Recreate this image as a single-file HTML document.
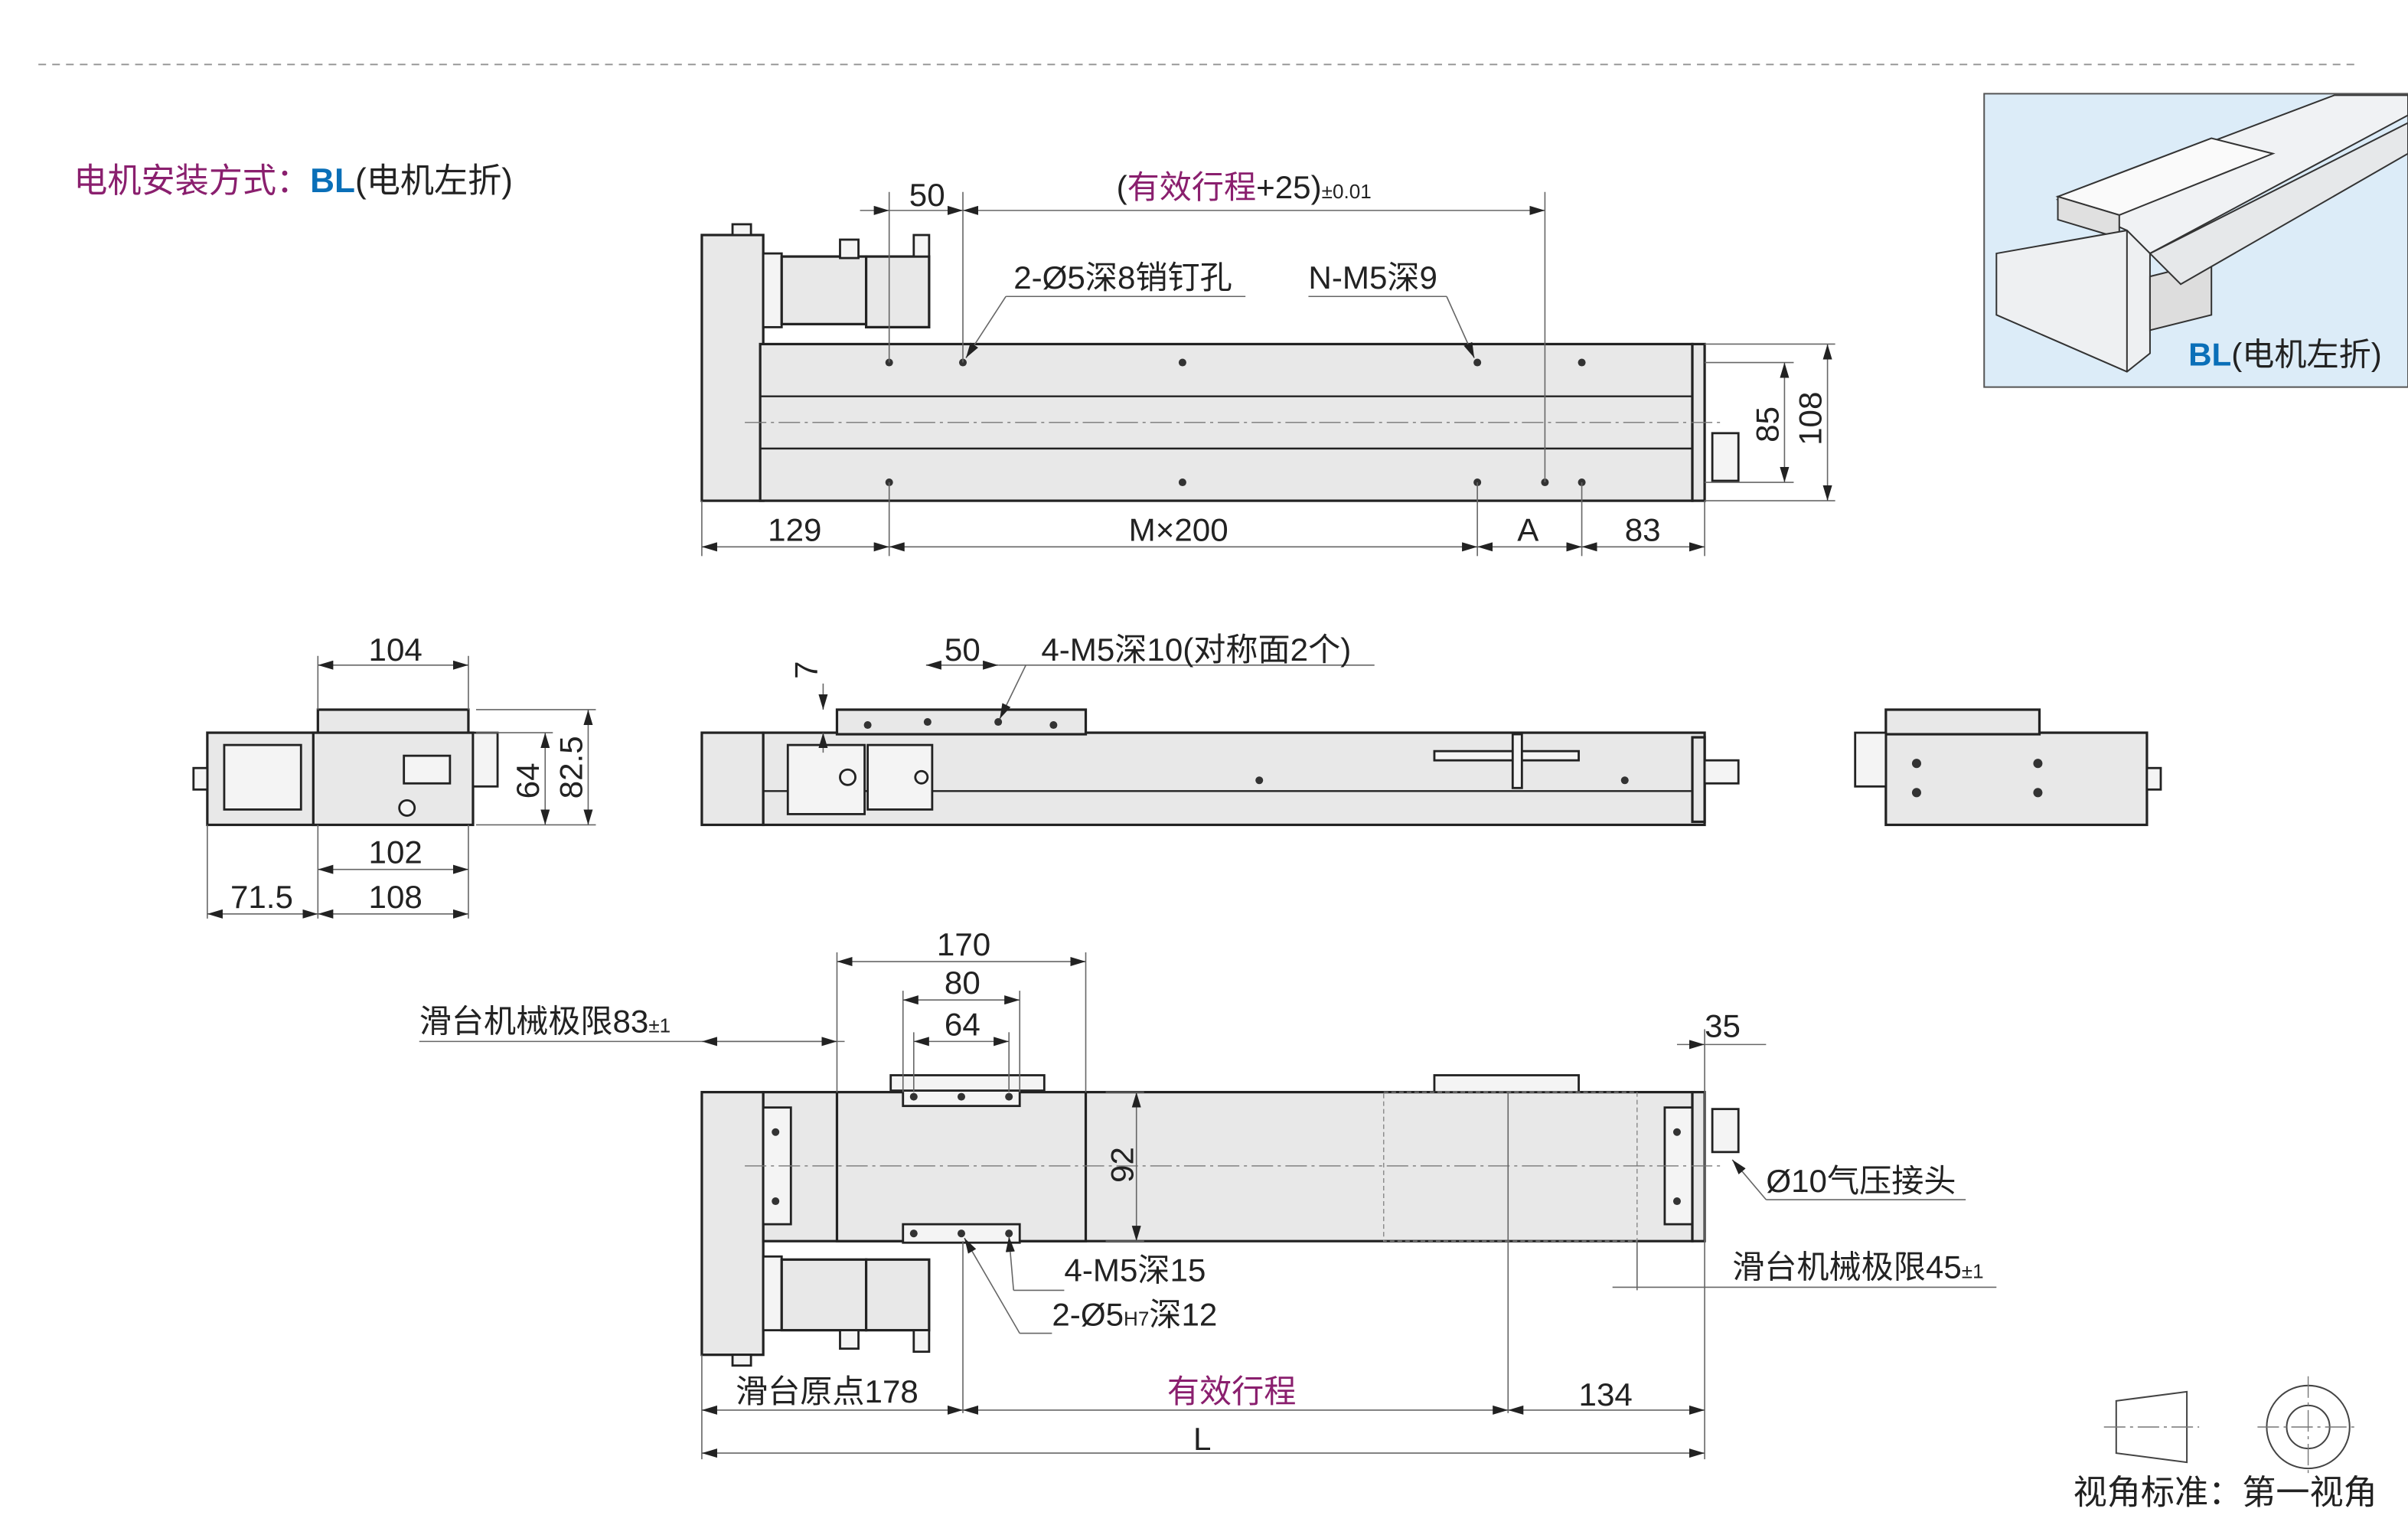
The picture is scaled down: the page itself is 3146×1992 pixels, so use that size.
<!DOCTYPE html>
<html><head><meta charset="utf-8"><style>
html,body{margin:0;padding:0;background:#fff;}
svg{display:block;}
text{font-family:"Liberation Sans","Noto Sans CJK SC",sans-serif;fill:#222;}
.b{fill:#e8e8e8;stroke:#222;stroke-width:1.6;}
.w{fill:#f4f4f4;stroke:#222;stroke-width:1.4;}
.l{stroke:#222;stroke-width:1.2;fill:none;}
.d{stroke:#666;stroke-width:0.8;fill:none;}
.c{stroke:#777;stroke-width:0.7;stroke-dasharray:14 3 2 3;fill:none;}
.h{stroke:#888;stroke-width:0.7;stroke-dasharray:3 2;fill:none;}
.t{font-size:21px;}
.p{fill:#8a1f6e;}
.bl{fill:#0a6fb8;font-weight:bold;}
</style></head><body>
<svg width="3146" height="1992" viewBox="0 0 1568 992.8" preserveAspectRatio="none" xmlns="http://www.w3.org/2000/svg">
<defs><marker id="a" viewBox="0 0 10 6" refX="10" refY="3" markerWidth="10" markerHeight="6" orient="auto-start-reverse" markerUnits="userSpaceOnUse"><path d="M0,0L10,3L0,6z" fill="#222"/></marker></defs>
<line x1="25" y1="42" x2="1535" y2="42" stroke="#999" stroke-width="1" stroke-dasharray="5 4"/>
<text x="48" y="125" style="font-size:22px"><tspan class="p">电机安装方式：</tspan><tspan class="bl">BL</tspan><tspan>(电机左折)</tspan></text>
<!-- inset -->
<rect x="1292" y="61" width="276" height="191" fill="#dcecf8" stroke="#555" stroke-width="1"/>
<polygon points="1340,130 1520,62 1568,62 1568,75 1400,165 1385,150" fill="#f0f2f4" stroke="#333" stroke-width="1"/>
<polygon points="1340,128 1440,90 1480,100 1380,140" fill="#fafafa" stroke="#333" stroke-width="1"/>
<polygon points="1340,128 1380,140 1380,155 1340,143" fill="#e0e0e0" stroke="#333" stroke-width="1"/>
<polygon points="1300,165 1385,150 1400,165 1400,230 1385,242 1300,205" fill="#eef0f2" stroke="#333" stroke-width="1"/>
<line x1="1385" y1="150" x2="1385" y2="242" stroke="#333" stroke-width="1"/>
<polygon points="1400,180 1440,170 1440,205 1400,215" fill="#ddd" stroke="#333" stroke-width="1"/>
<polygon points="1400,165 1568,80 1568,100 1420,185" fill="#e6e8ea" stroke="#333" stroke-width="1"/>
<text x="1425" y="238" class="t"><tspan class="bl">BL</tspan><tspan>(电机左折)</tspan></text>
<!-- TOP VIEW -->
<rect x="457" y="153" width="40" height="173" class="b"/>
<rect x="477" y="146" width="12" height="7" class="w"/>
<rect x="495" y="224" width="607" height="102" class="b"/>
<line x1="495" y1="258" x2="1102" y2="258" class="l"/><line x1="495" y1="292" x2="1102" y2="292" class="l"/>
<rect x="1102" y="224" width="8" height="102" class="b"/>
<rect x="1115" y="282" width="17" height="31" class="w"/>
<rect x="497" y="165" width="12" height="48" class="w"/>
<rect x="509" y="167" width="55" height="44" class="b"/>
<rect x="564" y="167" width="41" height="46" class="b"/>
<rect x="547" y="156" width="12" height="12" class="w"/><rect x="595" y="153" width="10" height="14" class="w"/>
<line x1="485" y1="275" x2="1120" y2="275" class="c"/>
<g fill="#333"><circle cx="579" cy="236" r="2.5"/><circle cx="627" cy="236" r="2.5"/><circle cx="770" cy="236" r="2.5"/><circle cx="962" cy="236" r="2.5"/><circle cx="1030" cy="236" r="2.5"/><circle cx="579" cy="314" r="2.5"/><circle cx="770" cy="314" r="2.5"/><circle cx="962" cy="314" r="2.5"/><circle cx="1006" cy="314" r="2.5"/><circle cx="1030" cy="314" r="2.5"/></g>
<line x1="579" y1="125" x2="579" y2="236" class="d"/><line x1="627" y1="125" x2="627" y2="236" class="d"/><line x1="1006" y1="125" x2="1006" y2="314" class="d"/>
<line x1="560" y1="137" x2="579" y2="137" class="d" marker-end="url(#a)"/><line x1="579" y1="137" x2="627" y2="137" class="d" marker-end="url(#a)"/><line x1="627" y1="137" x2="1006" y2="137" class="d" marker-start="url(#a)" marker-end="url(#a)"/>
<text x="592" y="134" class="t">50</text>
<text x="727" y="129" class="t"><tspan>(</tspan><tspan class="p">有效行程</tspan><tspan>+25)</tspan><tspan font-size="13">±0.01</tspan></text>
<text x="660" y="188" class="t">2-Ø5深8销钉孔</text><line x1="811" y1="193" x2="655" y2="193" class="d"/><line x1="655" y1="193" x2="629" y2="233" class="d" marker-end="url(#a)"/>
<text x="852" y="188" class="t">N-M5深9</text><line x1="852" y1="193" x2="942" y2="193" class="d"/><line x1="942" y1="193" x2="960" y2="233" class="d" marker-end="url(#a)"/>
<line x1="1110" y1="224" x2="1195" y2="224" class="d"/><line x1="1110" y1="326" x2="1195" y2="326" class="d"/><line x1="1110" y1="236" x2="1168" y2="236" class="d"/><line x1="1110" y1="314" x2="1168" y2="314" class="d"/>
<line x1="1162" y1="236" x2="1162" y2="314" class="d" marker-start="url(#a)" marker-end="url(#a)"/><line x1="1190" y1="224" x2="1190" y2="326" class="d" marker-start="url(#a)" marker-end="url(#a)"/>
<text x="1158" y="288" class="t" transform="rotate(-90 1158 288)">85</text><text x="1186" y="290" class="t" transform="rotate(-90 1186 290)">108</text>
<g class="d"><line x1="457" y1="326" x2="457" y2="362"/><line x1="579" y1="314" x2="579" y2="362"/><line x1="962" y1="314" x2="962" y2="362"/><line x1="1030" y1="314" x2="1030" y2="362"/><line x1="1110" y1="326" x2="1110" y2="362"/></g>
<line x1="457" y1="356" x2="579" y2="356" class="d" marker-start="url(#a)" marker-end="url(#a)"/><line x1="579" y1="356" x2="962" y2="356" class="d" marker-start="url(#a)" marker-end="url(#a)"/><line x1="962" y1="356" x2="1030" y2="356" class="d" marker-start="url(#a)" marker-end="url(#a)"/><line x1="1030" y1="356" x2="1110" y2="356" class="d" marker-start="url(#a)" marker-end="url(#a)"/>
<text x="500" y="352" class="t">129</text><text x="735" y="352" class="t">M×200</text><text x="988" y="352" class="t">A</text><text x="1058" y="352" class="t">83</text>
<!-- LEFT END VIEW -->
<rect x="135" y="477" width="72" height="60" class="b"/>
<rect x="146" y="485" width="50" height="42" class="w"/>
<rect x="126" y="500" width="9" height="14" class="w"/>
<rect x="207" y="462" width="98" height="16" class="b"/>
<rect x="204" y="477" width="104" height="60" class="b"/>
<rect x="263" y="492" width="30" height="18" class="w"/><circle cx="265" cy="526" r="5" class="w"/>
<rect x="308" y="477" width="16" height="35" class="w"/>
<g class="d"><line x1="207" y1="427" x2="207" y2="462"/><line x1="305" y1="427" x2="305" y2="462"/><line x1="207" y1="537" x2="207" y2="598"/><line x1="305" y1="537" x2="305" y2="598"/><line x1="135" y1="537" x2="135" y2="598"/><line x1="310" y1="462" x2="388" y2="462"/><line x1="310" y1="477" x2="360" y2="477"/><line x1="310" y1="537" x2="388" y2="537"/></g>
<line x1="207" y1="433" x2="305" y2="433" class="d" marker-start="url(#a)" marker-end="url(#a)"/><text x="240" y="430" class="t">104</text>
<line x1="207" y1="566" x2="305" y2="566" class="d" marker-start="url(#a)" marker-end="url(#a)"/><text x="240" y="562" class="t">102</text>
<line x1="207" y1="595" x2="305" y2="595" class="d" marker-start="url(#a)" marker-end="url(#a)"/><text x="240" y="591" class="t">108</text>
<line x1="135" y1="595" x2="207" y2="595" class="d" marker-start="url(#a)" marker-end="url(#a)"/><text x="150" y="591" class="t">71.5</text>
<line x1="355" y1="477" x2="355" y2="537" class="d" marker-start="url(#a)" marker-end="url(#a)"/><line x1="383" y1="462" x2="383" y2="537" class="d" marker-start="url(#a)" marker-end="url(#a)"/>
<text x="351" y="520" class="t" transform="rotate(-90 351 520)">64</text><text x="379" y="520" class="t" transform="rotate(-90 379 520)">82.5</text>
<!-- SIDE VIEW -->
<rect x="457" y="477" width="40" height="60" class="b"/>
<rect x="497" y="477" width="613" height="60" class="b"/>
<line x1="497" y1="515" x2="1102" y2="515" class="l"/>
<rect x="545" y="462" width="162" height="16" class="b"/>
<rect x="513" y="485" width="50" height="45" class="w"/><rect x="565" y="485" width="42" height="42" class="w"/>
<circle cx="552" cy="506" r="5" class="w"/><circle cx="600" cy="506" r="4" class="w"/>
<rect x="1102" y="480" width="8" height="55" class="b"/><rect x="1110" y="495" width="22" height="15" class="w"/>
<rect x="934" y="489" width="94" height="6" class="w"/><rect x="985" y="478" width="6" height="35" class="w"/>
<g fill="#333"><circle cx="565" cy="472" r="2.5"/><circle cx="604" cy="470" r="2.5"/><circle cx="650" cy="470" r="2.5"/><circle cx="686" cy="472" r="2.5"/><circle cx="820" cy="508" r="2.5"/><circle cx="1058" cy="508" r="2.5"/></g>
<line x1="603" y1="433" x2="650" y2="433" class="d" marker-start="url(#a)" marker-end="url(#a)"/><text x="615" y="430" class="t">50</text>
<line x1="650" y1="433" x2="895" y2="433" class="d"/><line x1="668" y1="433" x2="651" y2="468" class="d" marker-end="url(#a)"/>
<text x="678" y="430" class="t">4-M5深10(对称面2个)</text>
<line x1="536" y1="445" x2="536" y2="462" class="d" marker-end="url(#a)"/><line x1="536" y1="490" x2="536" y2="477" class="d" marker-end="url(#a)"/><text x="532" y="442" class="t" transform="rotate(-90 532 442)">7</text>
<!-- RIGHT END VIEW -->
<rect x="1228" y="477" width="170" height="60" class="b"/>
<rect x="1228" y="462" width="100" height="16" class="b"/>
<rect x="1208" y="477" width="20" height="35" class="w"/><rect x="1398" y="500" width="9" height="14" class="w"/>
<g fill="#333"><circle cx="1248" cy="497" r="3"/><circle cx="1327" cy="497" r="3"/><circle cx="1248" cy="516" r="3"/><circle cx="1327" cy="516" r="3"/></g>
<!-- BOTTOM VIEW -->
<rect x="457" y="711" width="40" height="171" class="b"/>
<rect x="477" y="882" width="12" height="7" class="w"/>
<rect x="497" y="711" width="605" height="97" class="b"/>
<rect x="497" y="721" width="18" height="76" class="w"/><rect x="1084" y="721" width="18" height="76" class="w"/>
<rect x="545" y="711" width="162" height="97" class="b"/>
<rect x="588" y="708" width="76" height="12" class="w"/><rect x="588" y="797" width="76" height="12" class="w"/>
<rect x="580" y="700" width="100" height="10" class="w"/>
<rect x="934" y="700" width="94" height="11" class="w"/>
<rect x="901" y="711" width="165" height="97" fill="none" class="h"/>
<rect x="1102" y="711" width="8" height="97" class="b"/><rect x="1115" y="722" width="17" height="28" class="w"/>
<rect x="497" y="818" width="12" height="48" class="w"/><rect x="509" y="820" width="55" height="46" class="b"/><rect x="564" y="820" width="41" height="46" class="b"/>
<rect x="547" y="866" width="12" height="12" class="w"/><rect x="595" y="866" width="10" height="14" class="w"/>
<line x1="485" y1="759" x2="1120" y2="759" class="c"/>
<g fill="#333"><circle cx="505" cy="737" r="2.5"/><circle cx="505" cy="782" r="2.5"/><circle cx="1092" cy="737" r="2.5"/><circle cx="1092" cy="782" r="2.5"/><circle cx="595" cy="714" r="2.5"/><circle cx="626" cy="714" r="2.5"/><circle cx="657" cy="714" r="2.5"/><circle cx="595" cy="803" r="2.5"/><circle cx="626" cy="803" r="2.5"/><circle cx="657" cy="803" r="2.5"/></g>
<g class="d"><line x1="545" y1="620" x2="545" y2="711"/><line x1="707" y1="620" x2="707" y2="711"/><line x1="588" y1="645" x2="588" y2="711"/><line x1="664" y1="645" x2="664" y2="711"/><line x1="595" y1="672" x2="595" y2="711"/><line x1="657" y1="672" x2="657" y2="711"/><line x1="1110" y1="670" x2="1110" y2="950"/><line x1="457" y1="882" x2="457" y2="950"/><line x1="627" y1="808" x2="627" y2="920"/><line x1="982" y1="711" x2="982" y2="920"/><line x1="1066" y1="808" x2="1066" y2="840"/><line x1="720" y1="711" x2="745" y2="711"/><line x1="720" y1="808" x2="745" y2="808"/></g>
<line x1="545" y1="626" x2="707" y2="626" class="d" marker-start="url(#a)" marker-end="url(#a)"/><text x="610" y="622" class="t">170</text>
<line x1="588" y1="651" x2="664" y2="651" class="d" marker-start="url(#a)" marker-end="url(#a)"/><text x="615" y="647" class="t">80</text>
<line x1="595" y1="678" x2="657" y2="678" class="d" marker-start="url(#a)" marker-end="url(#a)"/><text x="615" y="674" class="t">64</text>
<line x1="740" y1="711" x2="740" y2="808" class="d" marker-start="url(#a)" marker-end="url(#a)"/><text x="738" y="770" class="t" transform="rotate(-90 738 770)">92</text>
<text x="273" y="672" class="t">滑台机械极限83<tspan font-size="13">±1</tspan></text>
<line x1="273" y1="678" x2="550" y2="678" class="d"/><line x1="457" y1="678" x2="545" y2="678" class="d" marker-start="url(#a)" marker-end="url(#a)"/>
<line x1="1092" y1="680" x2="1110" y2="680" class="d" marker-end="url(#a)"/><line x1="1150" y1="680" x2="1110" y2="680" class="d"/><text x="1110" y="675" class="t">35</text>
<text x="1150" y="776" class="t">Ø10气压接头</text><line x1="1150" y1="781" x2="1280" y2="781" class="d"/><line x1="1150" y1="781" x2="1128" y2="755" class="d" marker-end="url(#a)"/>
<text x="1128" y="832" class="t">滑台机械极限45<tspan font-size="13">±1</tspan></text>
<line x1="1050" y1="838" x2="1300" y2="838" class="d"/>
<text x="693" y="834" class="t">4-M5深15</text><line x1="693" y1="840" x2="660" y2="840" class="d"/><line x1="660" y1="840" x2="657" y2="805" class="d" marker-end="url(#a)"/>
<text x="685" y="863" class="t">2-Ø5<tspan font-size="13">H7</tspan>深12</text><line x1="685" y1="868" x2="664" y2="868" class="d"/><line x1="664" y1="868" x2="628" y2="806" class="d" marker-end="url(#a)"/>
<line x1="457" y1="918" x2="627" y2="918" class="d" marker-start="url(#a)" marker-end="url(#a)"/><text x="479" y="913" class="t">滑台原点178</text>
<line x1="627" y1="918" x2="982" y2="918" class="d" marker-start="url(#a)" marker-end="url(#a)"/><text x="760" y="913" class="t p">有效行程</text>
<line x1="982" y1="918" x2="1110" y2="918" class="d" marker-start="url(#a)" marker-end="url(#a)"/><text x="1028" y="915" class="t">134</text>
<line x1="457" y1="946" x2="1110" y2="946" class="d" marker-start="url(#a)" marker-end="url(#a)"/><text x="777" y="944" class="t">L</text>
<!-- view symbol -->
<polygon points="1378,912 1424,906 1424,952 1378,946" fill="none" stroke="#444" stroke-width="1"/>
<line x1="1370" y1="929" x2="1432" y2="929" class="c"/>
<circle cx="1503" cy="929" r="27" fill="none" stroke="#444" stroke-width="1"/><circle cx="1503" cy="929" r="14" fill="none" stroke="#444" stroke-width="1"/>
<line x1="1470" y1="929" x2="1536" y2="929" class="c"/><line x1="1503" y1="896" x2="1503" y2="962" class="c"/>
<text x="1350" y="979" style="font-size:22px">视角标准：第一视角</text>
</svg>
</body></html>
